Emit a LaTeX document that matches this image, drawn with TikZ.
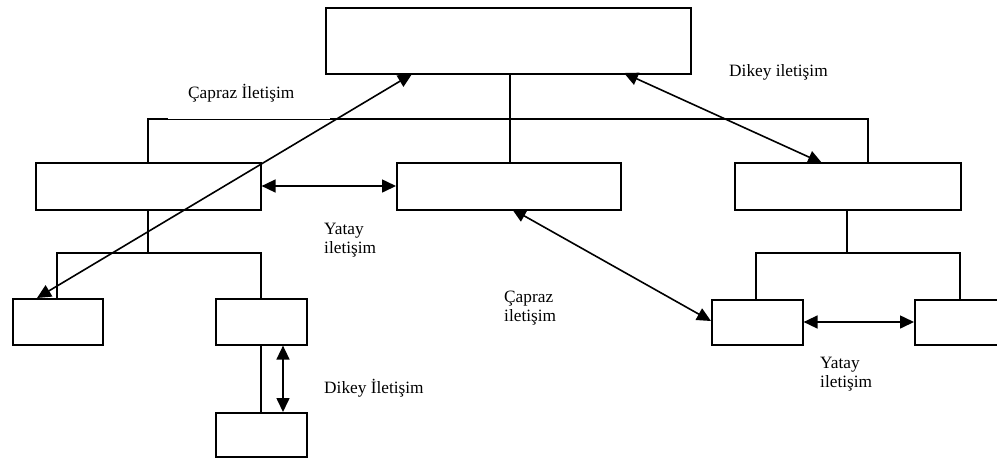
\documentclass[tikz,border=0pt]{standalone}
\usepackage{fontspec}
\setmainfont{Liberation Serif}
\usetikzlibrary{arrows.meta}
\begin{document}
\begin{tikzpicture}[x=1pt,y=-1pt,
  unit/.style={draw,line width=1.6pt,rectangle,inner sep=0pt,anchor=north west},
  link/.style={line width=1.5pt},
  comm/.style={line width=1.6pt,{Triangle[length=14pt,width=13pt]}-{Triangle[length=14pt,width=13pt]}},
  lbl/.style={font=\fontsize{17.3}{19}\selectfont,inner sep=0pt,align=left,anchor=base west}]
\useasboundingbox (0,0) rectangle (997,459);

% organisation units
\node[unit,minimum width=365pt,minimum height=66pt] (top) at (325,7) {};
\node[unit,minimum width=225pt,minimum height=47pt] (left) at (35,162) {};
\node[unit,minimum width=224pt,minimum height=47pt] (mid) at (396,162) {};
\node[unit,minimum width=226pt,minimum height=47pt] (right) at (734,162) {};
\node[unit,minimum width=90pt,minimum height=46pt] (ll) at (12,298) {};
\node[unit,minimum width=91pt,minimum height=46pt] (lr) at (215,298) {};
\node[unit,minimum width=91pt,minimum height=44pt] (lb) at (215,412) {};
\node[unit,minimum width=91pt,minimum height=45pt] (rl) at (711,299) {};
\node[unit,minimum width=95pt,minimum height=45pt] (rr) at (914,299) {};

% hierarchy lines
\coordinate (busL) at (148,119);
\coordinate (busA) at (168,119);
\coordinate (busB) at (330,119);
\coordinate (busR) at (868,119);
\draw[link] (left.north -| busL) -- (busL) -- (busA);
\draw[line width=0.8pt] (busA) -- (busB);
\draw[link] (busB) -- (busR) -- (right.north -| busR);
\draw[link] (top.south -| 510,0) -- (mid.north -| 510,0);

\coordinate (subL) at (148,253);
\draw[link] (left.south -| subL) -- (subL);
\draw[link] (ll.north -| 57,0) -- (57,253) -- (261,253) -- (lr.north -| 261,0);
\draw[link] (lr.south -| 261,0) -- (lb.north -| 261,0);

\coordinate (subR) at (847,253);
\draw[link] (right.south -| subR) -- (subR);
\draw[link] (rl.north -| 756,0) |- (subR);
\draw[link] (subR) -| (rr.north -| 960,0);

% communication arrows
\coordinate (topA) at (412,74);
\coordinate (llA) at (37,298);
\draw[comm] (topA) -- (llA);
\coordinate (topB) at (624,73);
\coordinate (rightA) at (822,163);
\draw[comm] (topB) -- (rightA);
\draw[comm] (left.east |- 0,186) -- (mid.west |- 0,186);
\coordinate (midA) at (512,209);
\coordinate (rlA) at (711,321);
\draw[comm] (midA) -- (rlA);
\draw[comm] (rl.east |- 0,322) -- (rr.west |- 0,322);
\draw[comm] (lr.south -| 283,0) -- (lb.north -| 283,0);

% labels (multi-line nodes sit on the baseline of their last line)
\node[lbl] (t1) at (188,98) {Çapraz İletişim};
\node[lbl] (t2) at (729,76) {Dikey iletişim};
\node[lbl] (t3) at (324,253) {Yatay\\iletişim};
\node[lbl] (t4) at (504,321) {Çapraz\\iletişim};
\node[lbl] (t5) at (820,387) {Yatay\\iletişim};
\node[lbl] (t6) at (324,393) {Dikey İletişim};
\end{tikzpicture}
\end{document}
